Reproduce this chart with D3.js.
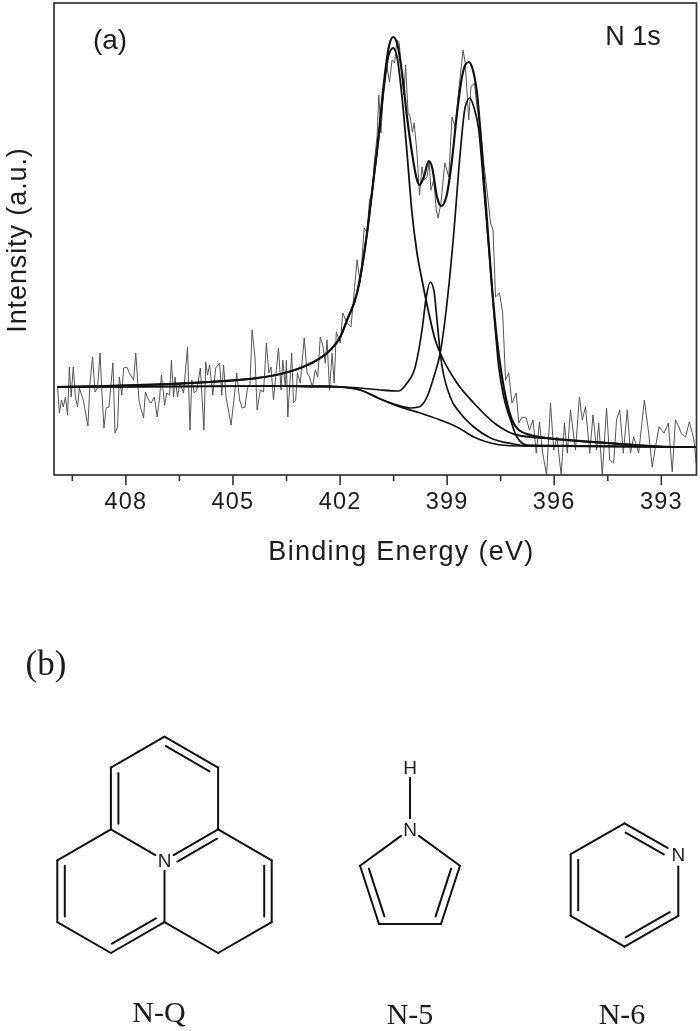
<!DOCTYPE html>
<html><head><meta charset="utf-8">
<script src="https://cdn.jsdelivr.net/npm/d3@7/dist/d3.min.js"></script>
<style>html,body{margin:0;padding:0;background:#fff}svg{display:block}</style>
</head><body><svg id="c" width="700" height="1031"></svg>
<script>
const majorTicks=[408,405,402,399,396,393];
const minorTicks=[409.5,406.5,403.5,400.5,397.5,394.5];
const xTitle="Binding Energy (eV)",yTitle="Intensity (a.u.)";
// [binding energy eV, intensity a.u.]
const rawSpectrum=[[409.90,88],[409.85,62],[409.79,75],[409.74,68],[409.68,78],[409.62,60],[409.57,108],[409.52,78],[409.46,108],[409.40,78],[409.34,68],[409.29,87],[409.18,75],[409.05,49],[408.99,93],[408.92,118],[408.85,83],[408.78,87],[408.71,122],[408.65,78],[408.60,47],[408.54,67],[408.46,68],[408.35,112],[408.29,42],[408.22,48],[408.17,98],[408.10,80],[408.05,107],[407.96,108],[407.89,102],[407.77,95],[407.71,122],[407.62,75],[407.57,67],[407.49,57],[407.44,83],[407.35,75],[407.28,72],[407.19,78],[407.11,58],[407.04,78],[406.99,100],[406.90,70],[406.84,82],[406.76,80],[406.71,115],[406.65,78],[406.61,98],[406.54,78],[406.47,92],[406.37,82],[406.26,128],[406.19,45],[406.14,95],[406.07,82],[406.00,85],[405.90,107],[405.80,45],[405.75,113],[405.70,100],[405.64,110],[405.55,80],[405.47,107],[405.36,112],[405.30,80],[405.25,110],[405.18,78],[405.04,50],[404.95,78],[404.88,102],[404.80,75],[404.73,67],[404.65,68],[404.58,87],[404.51,90],[404.45,145],[404.37,118],[404.31,65],[404.22,85],[404.13,83],[404.05,132],[403.98,102],[403.92,108],[403.85,75],[403.78,102],[403.71,127],[403.64,85],[403.59,115],[403.52,88],[403.49,115],[403.45,58],[403.34,122],[403.29,72],[403.23,75],[403.18,102],[403.10,92],[402.99,137],[402.91,102],[402.84,98],[402.76,88],[402.68,105],[402.61,98],[402.54,138],[402.47,130],[402.40,112],[402.35,135],[402.28,85],[402.21,122],[402.15,92],[402.09,143],
[401.98,132],[401.91,162],[401.79,152],[401.68,148],[401.51,215],[401.42,192],[401.31,247],[401.23,242],[401.16,275],[401.08,282],[401.03,312],[400.95,338],[400.90,380],[400.84,342],[400.77,385],[400.69,412],[400.60,393],[400.53,415],[400.46,412],[400.39,435],[400.33,432],[400.28,412],[400.20,380],[400.15,410],[400.08,362],[400.02,358],[399.96,343],[399.91,352],[399.83,322],[399.76,280],[399.69,308],[399.63,295],[399.55,298],[399.49,313],[399.44,285],[399.36,295],[399.29,265],[399.24,257],[399.16,272],[399.05,312],[398.94,298],[398.85,358],[398.76,348],[398.66,385],[398.54,425],[398.48,412],[398.38,355],[398.32,388],[398.22,392],[398.15,368],[398.05,348],[397.96,312],[397.87,285],[397.77,252],[397.70,245],[397.63,178],[397.52,182],[397.43,162],[397.35,95],[397.26,102],[397.17,72],[397.05,82],[396.98,52],[396.89,58],[396.77,57],[396.68,45],[396.58,55],[396.49,22],[396.40,53],[396.31,22],[396.20,0],[396.09,72],[396.00,25],[395.91,38],[395.79,0],[395.70,52],[395.62,22],[395.53,65],[395.39,25],[395.28,78],[395.20,55],[395.11,68],[394.99,22],[394.90,60],[394.80,25],[394.74,52],[394.64,0],[394.52,67],[394.43,15],[394.32,12],[394.24,55],[394.15,65],[394.05,22],[393.94,65],[393.85,22],[393.76,38],[393.62,22],[393.46,75],[393.34,42],[393.24,8],[393.15,28],[393.05,48],[392.91,42],[392.79,52],[392.68,3],[392.59,55],[392.49,48],[392.43,42],[392.31,38],[392.20,53],[392.12,42],[392.07,35],[392.01,12]];
const envelopeFit=[[409.90,88],[407.59,90],[406.18,92],[405.25,94],[404.31,97],[403.66,101],[403.10,107],[402.63,115],[402.26,125],[401.98,138],[401.79,155],[401.51,182],[401.37,208],[401.23,242],[401.05,295],[400.91,338],[400.77,388],[400.62,428],[400.50,438],[400.39,432],[400.25,402],[400.11,358],[399.97,322],[399.83,295],[399.76,290],[399.64,298],[399.50,314],[399.41,308],[399.27,278],[399.15,269],[399.01,278],[398.85,315],[398.71,362],[398.57,398],[398.48,410],[398.38,413],[398.29,408],[398.15,382],[398.01,322],[397.87,255],[397.73,188],[397.59,135],[397.45,98],[397.31,72],[397.17,55],[396.98,45],[396.65,40],[395.91,36],[394.50,32],[392.63,28],[392.00,28]];
const peakQuaternary=[[409.90,88],[407.59,90],[406.18,92],[405.25,94],[404.31,97],[403.66,101],[403.10,107],[402.63,115],[402.26,125],[401.98,138],[401.79,155],[401.51,182],[401.37,208],[401.23,242],[401.05,295],[400.91,335],[400.77,383],[400.62,420],[400.50,427],[400.39,418],[400.25,378],[400.11,322],[399.97,262],[399.83,222],[399.69,195],[399.50,162],[399.32,135],[399.18,122],[398.71,92],[398.24,72],[397.59,50],[397.03,40],[396.00,36],[394.50,32],[392.63,28],[392.00,28]];
const peakPyrrolic=[[409.90,88],[404.00,89],[402.50,88],[401.98,88],[401.42,87],[400.86,85],[400.34,84],[400.11,92],[399.88,108],[399.69,145],[399.57,178],[399.46,193],[399.36,185],[399.27,155],[399.18,122],[398.90,78],[398.62,62],[398.24,48],[397.77,37],[397.12,31],[396.75,29],[392.00,28]];
const peakPyridinic=[[409.90,88],[403.00,89],[401.98,88],[401.42,85],[400.86,76],[400.39,70],[400.02,67],[399.78,68],[399.55,78],[399.36,98],[399.18,122],[398.99,172],[398.80,242],[398.62,322],[398.48,368],[398.35,377],[398.24,368],[398.10,345],[397.96,288],[397.82,228],[397.68,165],[397.54,108],[397.40,78],[397.21,55],[397.03,38],[396.75,30],[392.00,28]];
const shirleyBackground=[[409.90,88],[403.00,89],[402.30,89],[401.98,88],[401.42,85],[400.86,76],[400.30,68],[399.74,62],[399.18,55],[398.71,48],[398.24,38],[397.77,32],[397.31,29.5],[396.75,29],[392.00,28]];

// Molecule skeletons: atoms in lattice units, bonds [a,b,ring side atom or null,trim a,trim b]
const moleculeQ={label:"N-Q",atoms:{t:[0,0],ur:[1,1],ul:[-1,1],ml:[-1,3],mr:[1,3],n:[0,4],lu:[-2,4],ll:[-2,6],bl:[-1,7],bc:[0,6],ru:[2,4],rl:[2,6],br:[1,7],cTop:[0,2],cLeft:[-1,5],cRight:[1,5]},
 bonds:[["t","ul"],["t","ur","cTop"],["ur","mr"],["ul","ml","cTop"],["ml","lu"],["lu","ll","cLeft"],["ll","bl"],["bl","bc","cLeft"],["bc","br"],["br","rl"],["rl","ru","cRight"],["ru","mr"],["ml","n",null,0,.17],["mr","n","cRight",0,.17],["n","bc",null,.17,0]],text:[["N","n"]]};
const moleculeFive={label:"N-5",atoms:{h:[0,-1],n:[0,0],l:[-.806,.587],r:[.806,.587],bl:[-.5,1.527],br:[.5,1.527],c:[0,.9]},
 bonds:[["h","n",null,.17,.18],["n","l",null,.18,0],["n","r",null,.18,0],["l","bl","c"],["r","br","c"],["bl","br"]],text:[["H","h"],["N","n"]]};
const moleculeSix={label:"N-6",atoms:{t:[1,0],ul:[0,1],ll:[0,3],b:[1,4],lr:[2,3],n:[2,1],c:[1,2]},
 bonds:[["t","ul"],["ul","ll","c"],["ll","b"],["b","lr","c"],["lr","n",null,0,.2],["t","n","c",0,.2]],text:[["N","n"]]};

const svg=d3.select("#c");
const root=svg.append("g").style("filter","blur(0.4px)");
const sans="'Liberation Sans',Arial,sans-serif",serif="'Liberation Serif','Times New Roman',serif";
const L=54,R=696.5,T=3,B=475;
const x=d3.scaleLinear().domain([410,392]).range([L,R]);
const y=d3.scaleLinear().domain([0,472]).range([B,T]);
svg.append("defs").append("clipPath").attr("id","plot").append("rect").attr("x",L).attr("y",T).attr("width",R-L).attr("height",B-T);

const plot=root.append("g").attr("clip-path","url(#plot)");
const rawLine=d3.line().x(d=>x(d[0])).y(d=>y(d[1]));
const fitLine=d3.line().x(d=>x(d[0])).y(d=>y(d[1])).curve(d3.curveMonotoneX);
plot.append("path").datum(rawSpectrum).attr("d",rawLine).attr("fill","none").attr("stroke","#555").attr("stroke-width",1);
[[shirleyBackground,1.7],[peakPyrrolic,1.7],[peakPyridinic,1.7],[peakQuaternary,1.8],[envelopeFit,2.2]].forEach(([s,w])=>{
  plot.append("path").datum(s).attr("d",fitLine).attr("fill","none").attr("stroke","#111").attr("stroke-width",w);
});

root.append("rect").attr("x",L).attr("y",T).attr("width",R-L).attr("height",B-T).attr("fill","none").attr("stroke","#333").attr("stroke-width",1.7);
const axMajor=root.append("g").attr("transform",`translate(0,${B})`).call(d3.axisBottom(x).tickValues(majorTicks).tickSize(10).tickPadding(7).tickFormat(d3.format("d")));
const axMinor=root.append("g").attr("transform",`translate(0,${B})`).call(d3.axisBottom(x).tickValues(minorTicks).tickSize(6).tickFormat(""));
[axMajor,axMinor].forEach(a=>{a.select(".domain").remove();a.selectAll("line").attr("stroke","#333").attr("stroke-width",1.6);});
axMajor.selectAll("text").attr("fill","#1c1c1c").style("font-family",sans).style("font-size","23.5px").style("letter-spacing","1.2px");

function t(txt,px,py,size,fam,anchor,ls){return root.append("text").text(txt).attr("x",px).attr("y",py).attr("text-anchor",anchor||"middle").attr("fill","#1c1c1c").style("font-family",fam).style("font-size",size+"px").style("letter-spacing",(ls||0)+"px");}
t(xTitle,401.5,560,27,sans,"middle",1.3);
root.append("text").text(yTitle).attr("transform","translate(26,240) rotate(-90)").attr("text-anchor","middle").attr("fill","#1c1c1c").style("font-family",sans).style("font-size","27px").style("letter-spacing",".9px");
t("(a)",110,49,28,sans);
t("N 1s",633,45,27,sans);
t("(b)",46,675,35,serif);

function drawMolecule(m,sx,sy,labelX,labelY){
  const g=root.append("g");
  const P=k=>[sx(m.atoms[k][0]),sy(m.atoms[k][1])];
  const seg=(a,b,p,q)=>g.append("line").attr("x1",a[0]+(b[0]-a[0])*p).attr("y1",a[1]+(b[1]-a[1])*p).attr("x2",a[0]+(b[0]-a[0])*(1-q)).attr("y2",a[1]+(b[1]-a[1])*(1-q)).attr("stroke","#111").attr("stroke-width",2).attr("stroke-linecap","round");
  m.bonds.forEach(([a,b,side,ta,tb])=>{
    ta=ta||0;tb=tb||0;
    const A=P(a),B2=P(b);
    seg(A,B2,ta,tb);
    if(side){
      const C=P(side),dx=B2[0]-A[0],dy=B2[1]-A[1],len=Math.hypot(dx,dy);
      let nx=-dy/len,ny=dx/len;
      if((C[0]-A[0])*nx+(C[1]-A[1])*ny<0){nx=-nx;ny=-ny;}
      const off=7.5;
      seg([A[0]+nx*off,A[1]+ny*off],[B2[0]+nx*off,B2[1]+ny*off],Math.max(ta,.09),Math.max(tb,.09));
    }
  });
  m.text.forEach(([s,k])=>{const p=P(k);g.append("text").text(s).attr("x",p[0]).attr("y",p[1]+6.5).attr("text-anchor","middle").attr("fill","#1c1c1c").style("font-family",sans).style("font-size","19px");});
  t(m.label,labelX,labelY,30,serif);
}
drawMolecule(moleculeQ,d3.scaleLinear().domain([-2,2]).range([57.3,271.7]),d3.scaleLinear().domain([0,7]).range([736.7,953]),159,1022);
drawMolecule(moleculeFive,d3.scaleLinear().domain([0,1]).range([410,472]),d3.scaleLinear().domain([0,1]).range([829.3,891.3]),410,1024);
drawMolecule(moleculeSix,d3.scaleLinear().domain([0,2]).range([570.7,678.3]),d3.scaleLinear().domain([0,4]).range([823.3,946.7]),622,1024);
</script></body></html>
